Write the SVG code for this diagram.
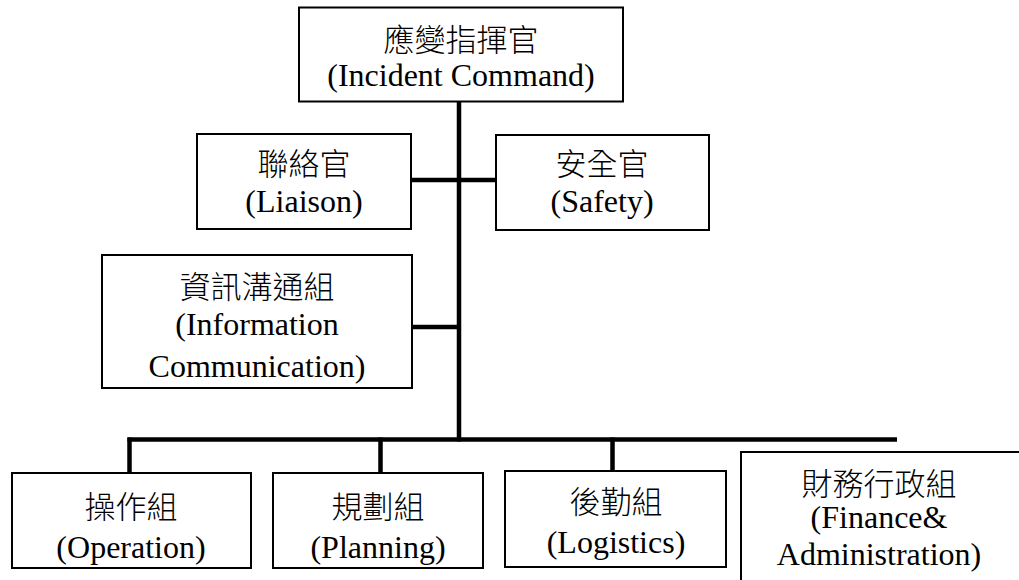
<svg xmlns="http://www.w3.org/2000/svg" width="1019" height="580" viewBox="0 0 1019 580">
<style>
.box{fill:#fff;stroke:#000;stroke-width:2}
.ln{stroke:#000;stroke-width:4.5;fill:none}
.zh{font-family:'Liberation Serif','Times New Roman','Noto Sans CJK TC',serif;font-size:31px;font-weight:300;fill:#000;text-anchor:middle}
.en{font-family:'Liberation Serif','Times New Roman',serif;font-size:32px;fill:#000;text-anchor:middle}
</style>
<rect width="1019" height="580" fill="#fff"/>
<g id="connectors">
<line class="ln" x1="459" y1="102" x2="459" y2="441.5"/>
<line class="ln" x1="410" y1="180" x2="497" y2="180"/>
<line class="ln" x1="411" y1="327" x2="459" y2="327"/>
<line class="ln" x1="127.5" y1="439.5" x2="897" y2="439.5"/>
<line class="ln" x1="129.5" y1="437.5" x2="129.5" y2="473"/>
<line class="ln" x1="380.5" y1="437.5" x2="380.5" y2="473"/>
<line class="ln" x1="612.5" y1="437.5" x2="612.5" y2="471"/>
</g>
<g id="incident-command">
<rect class="box" x="299" y="7.5" width="324" height="94"/>
<text class="zh" x="461" y="51">應變指揮官</text>
<text class="en" x="461" y="86">(Incident Command)</text>
</g>
<g id="liaison">
<rect class="box" x="197" y="134" width="214" height="95"/>
<text class="zh" x="304" y="175">聯絡官</text>
<text class="en" x="304" y="212">(Liaison)</text>
</g>
<g id="safety">
<rect class="box" x="496" y="135" width="213" height="95"/>
<text class="zh" x="602" y="175">安全官</text>
<text class="en" x="602" y="212">(Safety)</text>
</g>
<g id="information-communication">
<rect class="box" x="102" y="255" width="310" height="133"/>
<text class="zh" x="257" y="298">資訊溝通組</text>
<text class="en" x="257" y="335">(Information</text>
<text class="en" x="257" y="377">Communication)</text>
</g>
<g id="operation">
<rect class="box" x="12" y="473" width="239" height="95"/>
<text class="zh" x="131" y="518">操作組</text>
<text class="en" x="131" y="558">(Operation)</text>
</g>
<g id="planning">
<rect class="box" x="273" y="473" width="210" height="95"/>
<text class="zh" x="378" y="518">規劃組</text>
<text class="en" x="378" y="558">(Planning)</text>
</g>
<g id="logistics">
<rect class="box" x="505" y="471" width="221" height="96"/>
<text class="zh" x="616" y="513">後勤組</text>
<text class="en" x="616" y="553">(Logistics)</text>
</g>
<g id="finance-administration">
<rect class="box" x="741" y="452" width="290" height="140"/>
<text class="zh" x="879" y="495">財務行政組</text>
<text class="en" x="879" y="528">(Finance&amp;</text>
<text class="en" x="879" y="565">Administration)</text>
</g>
</svg>
